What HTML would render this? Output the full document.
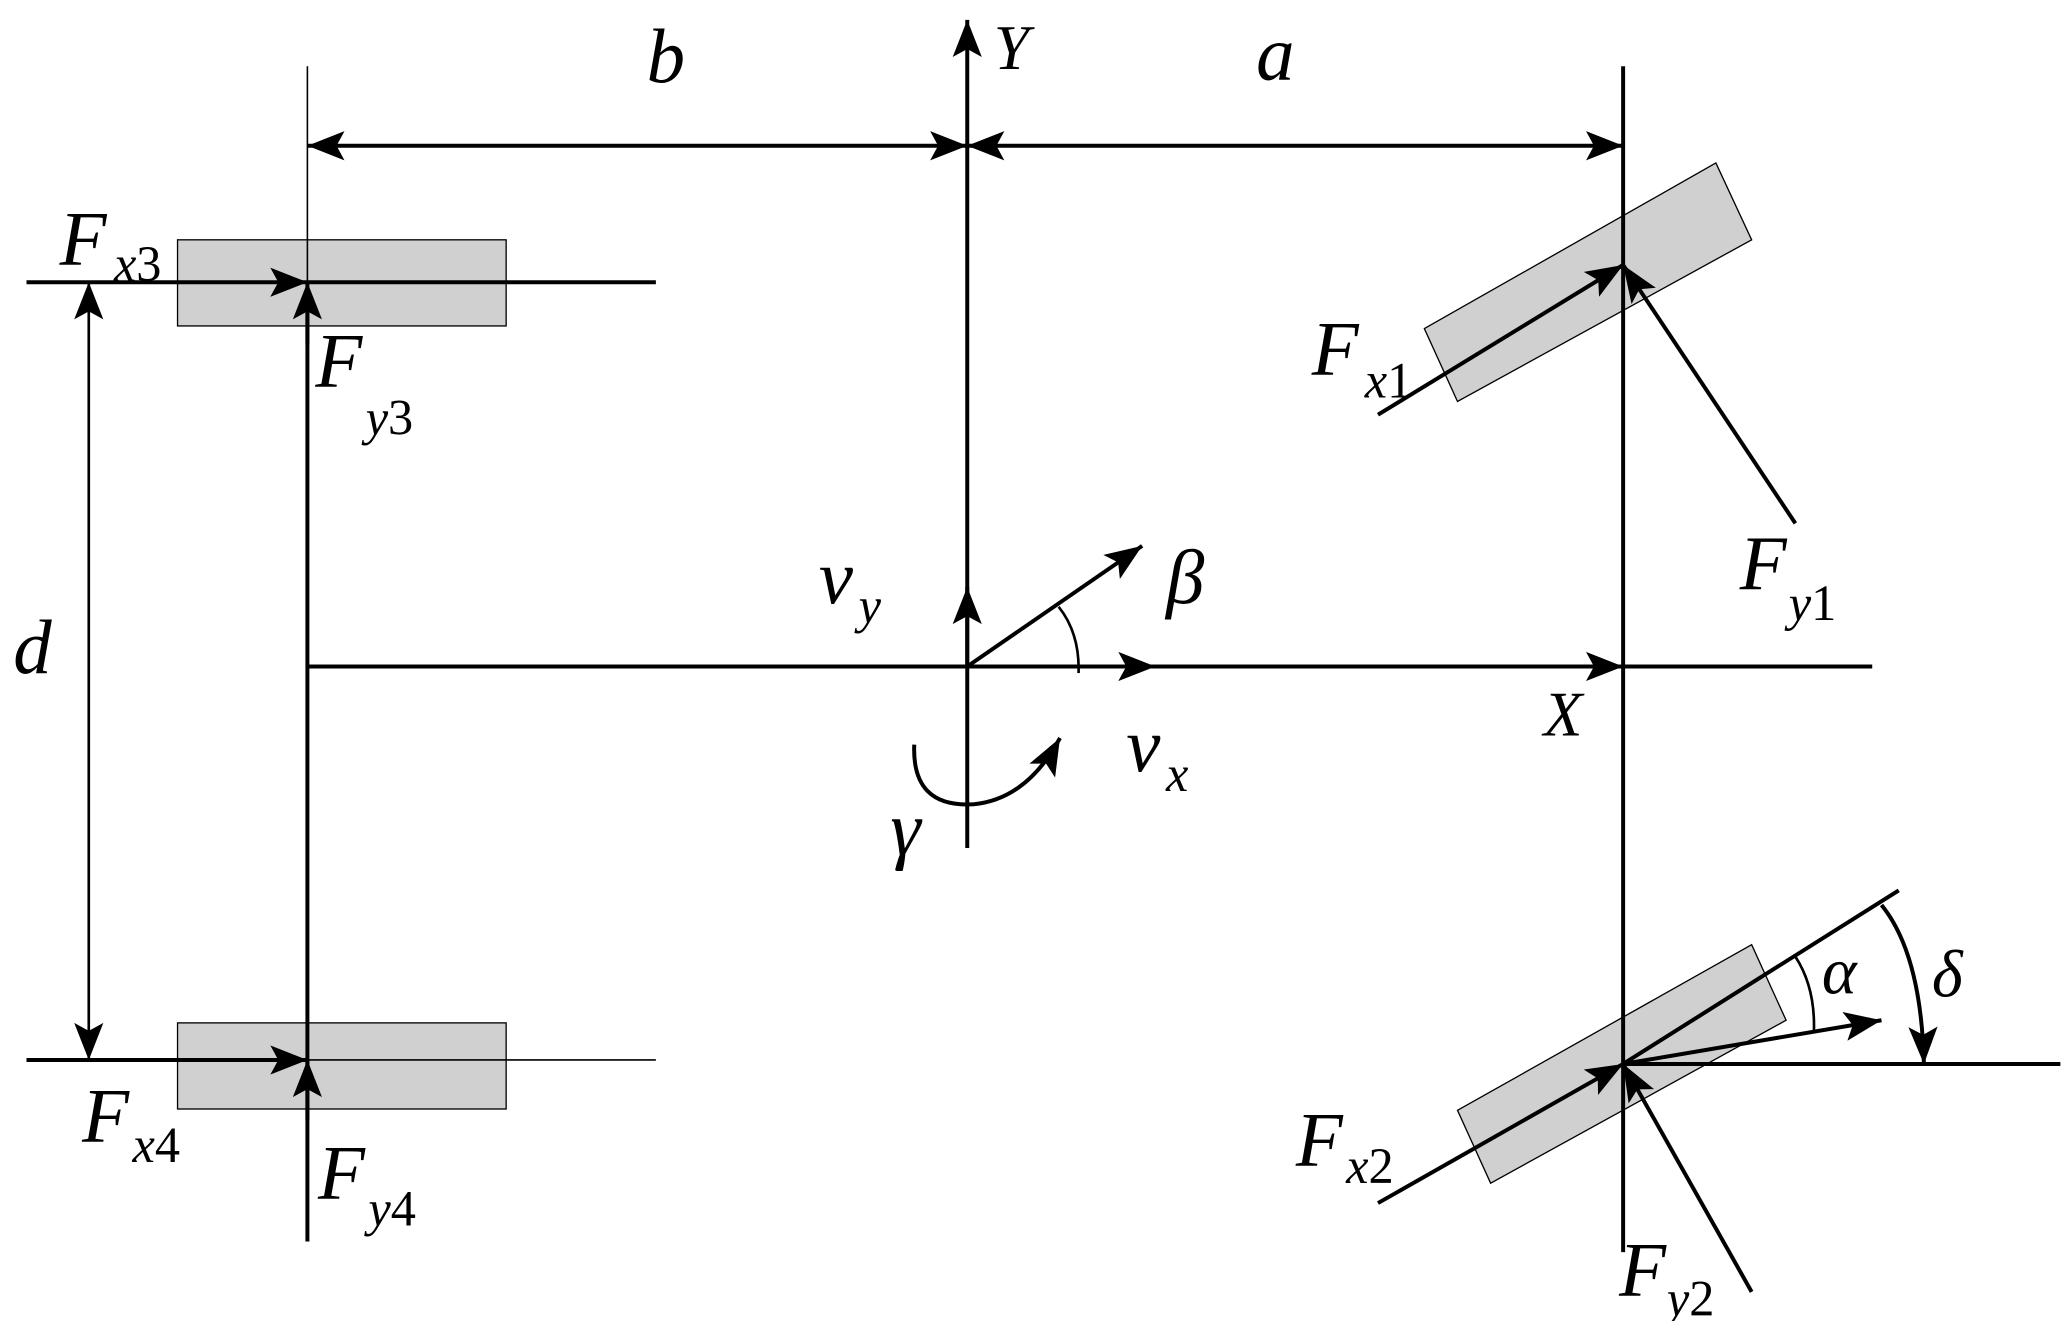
<!DOCTYPE html>
<html><head><style>html,body{margin:0;padding:0;background:#fff}svg{display:block}text{font-family:"Liberation Serif","Times New Roman",serif;font-style:italic;fill:#000}.n{font-style:normal}</style></head>
<body>
<svg width="2067" height="1321" viewBox="0 0 1560 997" preserveAspectRatio="none" xmlns="http://www.w3.org/2000/svg">
<defs>
<marker id="a" markerUnits="userSpaceOnUse" markerWidth="30" markerHeight="22" refX="28" refY="11" orient="auto"><path d="M0,0 L28,11 L0,22 L6,11 Z" fill="#000"/></marker>
<marker id="s" markerUnits="userSpaceOnUse" markerWidth="30" markerHeight="22" refX="0" refY="11" orient="auto"><path d="M28,0 L0,11 L28,22 L22,11 Z" fill="#000"/></marker>
</defs>
<g fill="#d0d0d0" stroke="#000" stroke-width="1">
<rect x="134" y="181" width="248" height="65"/>
<rect x="134" y="772" width="248" height="65"/>
<polygon points="1075,248 1295,123 1322,181 1100,303"/>
<polygon points="1100,838 1322,713 1348,770 1125,893"/>
</g>
<g stroke="#000" fill="none" stroke-width="3">
<line x1="232" y1="50" x2="232" y2="213" stroke-width="1.2"/>
<line x1="232" y1="236" x2="232" y2="937"/>
<line x1="730" y1="15" x2="730" y2="640" marker-start="url(#s)"/>
<line x1="1225" y1="50" x2="1225" y2="945"/>
<line x1="232" y1="110" x2="730" y2="110" marker-start="url(#s)" marker-end="url(#a)"/>
<line x1="730" y1="110" x2="1225" y2="110" marker-start="url(#s)" marker-end="url(#a)"/>
<line x1="232" y1="503" x2="1225" y2="503" marker-end="url(#a)"/>
<line x1="1225" y1="503" x2="1413" y2="503"/>
<line x1="730" y1="503" x2="872" y2="503" marker-end="url(#a)"/>
<line x1="730" y1="503" x2="730" y2="443" marker-end="url(#a)"/>
<line x1="730" y1="503" x2="862" y2="412" marker-end="url(#a)"/>
<path d="M799,458 Q815,478 814,508" stroke-width="2"/>
<path d="M690,562 Q688,610 735,607 Q775,603 800,557" marker-end="url(#a)"/>
<line x1="20" y1="213" x2="232" y2="213" marker-end="url(#a)"/>
<line x1="232" y1="213" x2="495" y2="213"/>
<line x1="232" y1="260" x2="232" y2="213" marker-end="url(#a)"/>
<line x1="67" y1="213" x2="67" y2="800" stroke-width="2" marker-start="url(#s)" marker-end="url(#a)"/>
<line x1="20" y1="800" x2="232" y2="800" marker-end="url(#a)"/>
<line x1="232" y1="800" x2="495" y2="800" stroke-width="1.2"/>
<line x1="232" y1="845" x2="232" y2="800" marker-end="url(#a)"/>
<line x1="1040" y1="313" x2="1225" y2="200" marker-end="url(#a)"/>
<line x1="1355" y1="395" x2="1225" y2="200" marker-end="url(#a)"/>
<line x1="1040" y1="908" x2="1225" y2="803" marker-end="url(#a)"/>
<line x1="1225" y1="803" x2="1433" y2="672"/>
<line x1="1322" y1="975" x2="1225" y2="803" marker-end="url(#a)"/>
<line x1="1225" y1="803" x2="1420" y2="770" marker-end="url(#a)"/>
<line x1="1225" y1="803" x2="1555" y2="803"/>
<path d="M1355,722 Q1370,745 1369,778" stroke-width="2"/>
<path d="M1420,683 Q1450,720 1452,803" marker-end="url(#a)"/>
</g>
<g font-size="58">
<text x="45" y="200">F</text><text x="86" y="212" font-size="38">x<tspan class="n">3</tspan></text>
<text x="238" y="292">F</text><text x="276" y="328" font-size="38">y<tspan class="n">3</tspan></text>
<text x="990" y="283">F</text><text x="1030" y="300" font-size="38">x<tspan class="n">1</tspan></text>
<text x="1313" y="445">F</text><text x="1350" y="468" font-size="38">y<tspan class="n">1</tspan></text>
<text x="62" y="862">F</text><text x="100" y="877" font-size="38">x<tspan class="n">4</tspan></text>
<text x="240" y="905">F</text><text x="278" y="925" font-size="38">y<tspan class="n">4</tspan></text>
<text x="978" y="880">F</text><text x="1016" y="893" font-size="38">x<tspan class="n">2</tspan></text>
<text x="1222" y="978">F</text><text x="1258" y="993" font-size="38">y<tspan class="n">2</tspan></text>
<text x="488" y="62">b</text>
<text x="948" y="60">a</text>
<text x="750" y="52" font-size="48">Y</text>
<text x="1165" y="555" font-size="48">X</text>
<text x="10" y="508">d</text>
<text x="618" y="455">v</text><text x="648" y="470" font-size="38">y</text>
<text x="880" y="455">β</text>
<text x="850" y="582">v</text><text x="880" y="597" font-size="38">x</text>
<text x="672" y="645">γ</text>
<text x="1375" y="750" font-size="50">α</text>
<text x="1458" y="752" font-size="50">δ</text>
</g>
</svg>
</body></html>
